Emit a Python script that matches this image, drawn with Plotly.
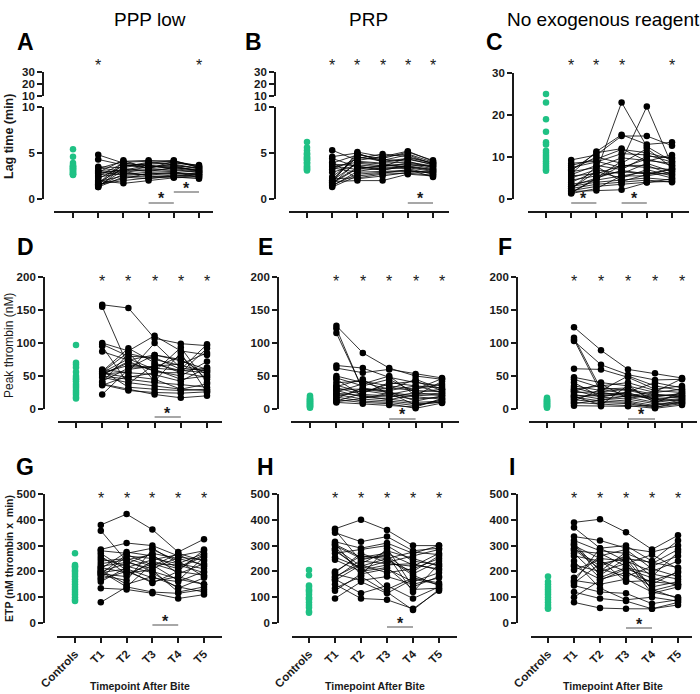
import plotly.graph_objects as go

timepoints = ["Controls", "T1", "T2", "T3", "T4", "T5"]

# ---------------- data ----------------
# each row = one patient, values at T1..T5
lag_ppp_ctrl = [5.4, 4.6, 3.9, 3.7, 3.6, 3.5, 3.4, 3.3, 3.2, 3.1, 3.0, 2.9, 2.8, 2.7, 2.7, 2.6, 3.5, 3.3]
lag_ppp = [
    [4.8, 3.9, 3.6, 3.4, 3.1], [4.3, 3.7, 3.4, 3.8, 3.3], [3.5, 3.4, 3.9, 4.1, 3.6], [3.3, 4.1, 4.2, 4.0, 3.5],
    [3.1, 2.9, 3.2, 3.1, 2.9], [3.0, 2.6, 2.7, 2.9, 2.7], [2.8, 3.2, 3.0, 3.4, 3.2], [2.6, 3.0, 3.5, 3.6, 3.4],
    [2.4, 2.8, 2.6, 2.8, 2.6], [2.2, 3.6, 3.8, 3.9, 3.7], [2.0, 1.7, 2.0, 2.3, 2.4], [1.9, 2.5, 2.4, 2.6, 2.5],
    [1.8, 3.3, 3.1, 3.3, 3.0], [1.7, 4.0, 4.1, 4.2, 3.4], [1.6, 2.2, 2.8, 2.7, 2.8], [1.5, 3.8, 3.3, 3.5, 3.1],
    [1.4, 2.7, 2.9, 3.0, 2.3], [1.4, 3.1, 3.7, 3.2, 2.9], [1.3, 3.5, 4.0, 3.7, 3.3], [1.3, 2.4, 2.2, 2.5, 2.7],
    [2.9, 4.2, 3.3, 4.1, 3.5], [3.4, 3.0, 2.5, 2.4, 2.2], [2.5, 3.9, 3.6, 3.6, 3.0], [1.6, 2.0, 2.3, 2.4, 2.5],
]
lag_prp_ctrl = [6.2, 5.6, 5.3, 5.0, 4.8, 4.6, 4.5, 4.3, 4.2, 4.0, 3.9, 3.8, 3.6, 3.5, 3.4, 3.3, 3.2, 3.1, 4.9, 4.4]
lag_prp = [
    [5.3, 4.2, 4.6, 4.9, 4.0], [4.6, 5.0, 4.0, 4.3, 3.8], [4.4, 3.5, 3.3, 3.6, 3.2], [3.9, 4.8, 4.4, 5.1, 4.2],
    [3.6, 3.2, 3.7, 3.4, 3.0], [3.4, 2.9, 3.0, 3.1, 2.8], [3.2, 4.4, 4.9, 4.6, 3.9], [2.9, 3.7, 3.5, 3.9, 3.5],
    [2.2, 2.3, 2.7, 2.8, 2.6], [2.1, 4.6, 4.1, 4.4, 3.7], [2.0, 3.9, 3.6, 3.8, 3.3], [1.9, 2.0, 2.0, 2.7, 2.5],
    [1.8, 5.1, 4.6, 5.2, 4.1], [1.7, 3.3, 3.2, 3.5, 3.1], [1.6, 4.1, 3.9, 4.0, 3.6], [1.5, 2.7, 2.9, 3.0, 2.9],
    [1.4, 3.0, 3.4, 3.3, 2.7], [1.3, 2.5, 2.8, 3.2, 2.4], [2.4, 4.5, 4.3, 4.1, 3.4], [3.8, 3.6, 3.1, 3.7, 3.6],
    [4.0, 2.2, 2.5, 2.9, 3.0], [2.0, 4.9, 4.2, 4.8, 3.8], [3.5, 4.0, 3.8, 3.5, 3.2], [1.8, 3.4, 3.5, 4.5, 3.9],
]
lag_none_ctrl = [25, 23, 19, 16, 13.5, 13, 11.5, 11, 10.5, 10, 9.5, 9, 8.5, 8, 7.5, 7, 6.7]
lag_none = [
    [2.5, 6.5, 23.0, 12.5, 9.0], [3.0, 5.0, 9.0, 22.0, 8.0], [6.0, 11.3, 15.3, 13.0, 13.5], [9.3, 10.5, 15.0, 15.0, 12.7],
    [8.0, 9.5, 11.8, 11.0, 9.5], [7.5, 8.8, 10.8, 10.5, 8.8], [7.0, 10.0, 8.5, 12.0, 7.5], [6.5, 7.5, 9.8, 9.2, 8.5],
    [5.8, 8.0, 7.0, 10.2, 9.8], [5.5, 6.0, 8.0, 7.5, 7.0], [5.0, 7.0, 6.0, 8.5, 6.5], [4.5, 5.5, 6.5, 6.0, 6.0],
    [4.0, 6.5, 5.0, 7.0, 5.5], [3.5, 4.5, 5.5, 6.5, 5.0], [3.0, 4.0, 4.5, 5.0, 4.5], [2.5, 3.5, 4.0, 4.5, 4.0],
    [2.0, 3.0, 3.5, 4.0, 4.2], [1.8, 2.0, 2.2, 3.9, 4.8], [1.5, 5.0, 6.8, 6.0, 7.0], [1.3, 2.5, 5.5, 5.5, 6.5],
    [8.5, 9.0, 7.5, 9.5, 8.0], [1.5, 4.8, 8.0, 8.0, 5.8], [2.2, 7.8, 4.2, 5.8, 7.2], [6.8, 11.0, 12.0, 9.0, 10.5],
]
peak_ppp_ctrl = [97, 70, 67, 63, 56, 50, 47, 45, 42, 38, 35, 32, 28, 25, 22, 18, 16]
peak_ppp = [
    [158, 153, 107, 99, 96], [155, 64, 62, 58, 55], [100, 88, 111, 88, 82], [98, 80, 78, 60, 98],
    [87, 74, 82, 73, 60], [57, 92, 70, 55, 92], [55, 66, 63, 80, 45], [53, 56, 100, 62, 58],
    [52, 70, 58, 50, 72], [50, 45, 40, 37, 33], [40, 84, 75, 66, 57], [38, 30, 22, 17, 20],
    [36, 50, 45, 30, 28], [22, 60, 65, 68, 85], [58, 33, 30, 28, 30], [55, 76, 60, 45, 50],
    [48, 40, 35, 30, 38], [60, 55, 52, 42, 63], [42, 62, 82, 75, 52], [56, 86, 42, 85, 25],
    [54, 48, 55, 55, 48], [37, 28, 25, 24, 26], [95, 38, 68, 58, 62], [52, 72, 57, 93, 40],
]
peak_prp_ctrl = [20, 18, 16, 15, 14, 13, 12, 11, 10, 9, 8, 7, 6, 5, 4, 3, 2]
peak_prp = [
    [126, 85, 62, 50, 45], [122, 28, 22, 18, 15], [115, 30, 25, 20, 22], [66, 62, 48, 40, 35],
    [62, 55, 60, 53, 47], [50, 40, 30, 45, 30], [47, 35, 45, 25, 20], [40, 42, 35, 30, 38],
    [36, 25, 38, 42, 28], [32, 22, 20, 15, 18], [30, 30, 28, 35, 25], [28, 18, 15, 10, 12],
    [26, 38, 50, 20, 42], [24, 20, 18, 25, 30], [22, 15, 12, 8, 10], [20, 28, 32, 28, 26],
    [18, 12, 10, 5, 14], [16, 32, 26, 12, 20], [14, 10, 8, 1, 9], [12, 24, 40, 35, 32],
    [10, 8, 6, 3, 16], [45, 20, 14, 22, 24], [34, 45, 22, 30, 46], [11, 16, 24, 6, 11],
]
peak_none_ctrl = [17, 15, 14, 13, 12, 11, 10, 9, 8, 7, 6, 5, 4, 3, 2]
peak_none = [
    [124, 89, 60, 54, 47], [108, 30, 22, 15, 12], [105, 25, 20, 16, 18], [103, 67, 52, 44, 45],
    [61, 60, 48, 30, 35], [48, 40, 35, 25, 30], [45, 32, 28, 20, 22], [35, 28, 50, 35, 28],
    [32, 22, 18, 10, 15], [30, 35, 40, 28, 25], [28, 18, 15, 8, 10], [25, 26, 30, 22, 20],
    [22, 15, 12, 5, 14], [20, 20, 25, 12, 16], [18, 12, 10, 3, 8], [16, 24, 22, 18, 24],
    [14, 10, 8, 2, 12], [12, 30, 32, 14, 20], [10, 8, 5, 1, 6], [8, 14, 20, 26, 46],
    [5, 4, 4, 6, 9], [40, 18, 26, 40, 32], [27, 38, 16, 22, 18], [19, 6, 36, 9, 26],
]
etp_ppp_ctrl = [270, 225, 220, 215, 205, 200, 190, 180, 170, 160, 150, 140, 130, 120, 110, 100, 90, 85]
etp_ppp = [
    [380, 422, 362, 275, 325], [358, 240, 200, 170, 150], [285, 310, 300, 260, 280], [280, 270, 290, 230, 270],
    [260, 190, 230, 200, 185], [240, 250, 220, 270, 240], [210, 275, 260, 215, 265], [205, 150, 180, 140, 120],
    [200, 230, 270, 250, 225], [195, 210, 175, 160, 200], [190, 180, 240, 210, 260], [175, 260, 250, 230, 210],
    [170, 200, 160, 180, 150], [135, 130, 115, 95, 110], [80, 140, 120, 115, 130], [220, 235, 210, 255, 245],
    [185, 165, 285, 240, 180], [250, 220, 195, 135, 175], [230, 245, 265, 190, 230], [200, 140, 230, 225, 195],
    [215, 195, 205, 120, 140], [270, 205, 155, 200, 285], [190, 265, 225, 165, 255], [160, 215, 245, 265, 220],
]
etp_prp_ctrl = [205, 185, 145, 140, 130, 125, 120, 110, 100, 95, 90, 80, 70, 60, 45, 40]
etp_prp = [
    [365, 400, 360, 300, 300], [360, 240, 230, 220, 270], [350, 315, 335, 280, 290], [315, 290, 310, 270, 300],
    [305, 255, 270, 225, 210], [290, 220, 250, 185, 145], [280, 210, 240, 200, 260], [270, 285, 300, 240, 225],
    [245, 200, 215, 130, 135], [200, 260, 250, 275, 265], [190, 165, 180, 150, 175], [180, 230, 280, 250, 220],
    [170, 115, 145, 95, 140], [150, 95, 90, 55, 125], [135, 180, 120, 50, 130], [125, 190, 210, 160, 195],
    [95, 160, 115, 170, 150], [300, 250, 260, 190, 240], [285, 205, 225, 230, 205], [310, 185, 290, 140, 180],
    [195, 270, 235, 260, 285], [165, 225, 195, 210, 250], [255, 215, 130, 175, 155], [175, 245, 265, 120, 230],
]
etp_none_ctrl = [180, 160, 150, 140, 130, 120, 110, 100, 90, 80, 70, 60, 55]
etp_none = [
    [390, 402, 352, 285, 340], [370, 290, 300, 240, 320], [335, 320, 290, 275, 300], [320, 280, 270, 230, 285],
    [300, 250, 240, 200, 240], [290, 220, 260, 180, 275], [280, 270, 220, 150, 200], [260, 240, 200, 140, 160],
    [225, 200, 230, 265, 210], [220, 170, 195, 160, 150], [175, 260, 285, 210, 180], [165, 150, 170, 120, 100],
    [155, 230, 250, 235, 215], [145, 120, 115, 75, 90], [120, 95, 85, 55, 80], [100, 165, 210, 175, 145],
    [80, 58, 55, 55, 70], [305, 185, 250, 130, 95], [285, 210, 180, 220, 260], [270, 175, 215, 190, 170],
    [160, 290, 240, 115, 140], [205, 245, 160, 165, 195], [310, 200, 275, 125, 150], [240, 135, 90, 100, 85],
]

column_titles = ["PPP low", "PRP", "No exogenous reagent"]
row_titles = ["Lag time (min)", "Peak thrombin (nM)", "ETP (nM thrombin x  min)"]
x_title = "Timepoint After Bite"

# significance marks: timepoints starred vs controls, and bracketed pairs
top_stars = {
    "A": ["T1", "T5"], "B": ["T1", "T2", "T3", "T4", "T5"], "C": ["T1", "T2", "T3", "T5"],
    "D": ["T1", "T2", "T3", "T4", "T5"], "E": ["T1", "T2", "T3", "T4", "T5"], "F": ["T1", "T2", "T3", "T4", "T5"],
    "G": ["T1", "T2", "T3", "T4", "T5"], "H": ["T1", "T2", "T3", "T4", "T5"], "I": ["T1", "T2", "T3", "T4", "T5"],
}
pair_marks = {
    "A": [("T3", "T4", 203), ("T4", "T5", 192)],
    "B": [("T4", "T5", 203)],
    "C": [("T1", "T2", 203), ("T3", "T4", 203)],
    "D": [("T3", "T4", 417)], "E": [("T3", "T4", 419)], "F": [("T3", "T4", 419)],
    "G": [("T3", "T4", 625)], "H": [("T3", "T4", 627)], "I": [("T3", "T4", 628)],
}

# ---------------- layout geometry (pixels) ----------------
W, H = 700, 694
FONT = "Arial, Liberation Sans, sans-serif"
INK = "#1a1a1a"
GREEN = "#1fc184"


def fx(px):
    return px / W


def fy(py):
    return 1 - py / H


# per row: pixel of y=0, pixel of top value, top value, tick step, x-axis line pixel, star pixel
rows = [
    dict(y0=199, ytop=107, vtop=10, dtick=5, xline=212, star=61),
    dict(y0=409, ytop=277, vtop=200, dtick=50, xline=422, star=277),
    dict(y0=623, ytop=494, vtop=500, dtick=100, xline=637, star=494),
]
# per panel: letter, data, controls, row, col, x-line left/right, first/last tick px, y-axis px
panels = [
    ("A", lag_ppp, lag_ppp_ctrl, 0, 0, 54, 213, 73, 199, 43),
    ("B", lag_prp, lag_prp_ctrl, 0, 1, 289, 449, 307, 433, 275),
    ("C", lag_none, lag_none_ctrl, 0, 2, 528, 689, 546, 672, 513),
    ("D", peak_ppp, peak_ppp_ctrl, 1, 0, 58, 222, 76, 207, 44),
    ("E", peak_prp, peak_prp_ctrl, 1, 1, 291, 459, 310, 442, 278),
    ("F", peak_none, peak_none_ctrl, 1, 2, 529, 697, 547, 682, 517),
    ("G", etp_ppp, etp_ppp_ctrl, 2, 0, 57, 222, 75, 204, 44),
    ("H", etp_prp, etp_prp_ctrl, 2, 1, 292, 457, 309, 439, 278),
    ("I", etp_none, etp_none_ctrl, 2, 2, 531, 692, 548, 678, 517),
]
letter_pos = {"A": (25, 42), "B": (253, 42), "C": (494, 42),
              "D": (25, 247), "E": (265, 247), "F": (505, 247),
              "G": (25, 467), "H": (265, 467), "I": (512, 467)}
col_title_x = [150, 368, 603]
x_title_x = [140, 375, 613]

fig = go.Figure()
layout = dict(template="none", width=W, height=H,
              margin=dict(l=0, r=0, t=0, b=0, pad=0, autoexpand=False),
              paper_bgcolor="white", plot_bgcolor="white", showlegend=False,
              font=dict(family=FONT, color=INK))
annotations = []
shapes = []

axis_common = dict(showgrid=False, zeroline=False, showline=True, linecolor=INK, linewidth=1.8,
                   ticks="outside", ticklen=5, tickwidth=1.6, tickcolor=INK, automargin=False,
                   tickfont=dict(family=FONT, size=11.5, color=INK, weight="bold"))

for k, (letter, data, ctrl, r, c, xl, xr, t0, t5, yax) in enumerate(panels, start=1):
    g = rows[r]
    sfx = "" if k == 1 else str(k)
    xref, yref = "x" + sfx, "y" + sfx
    step = (t5 - t0) / 5.0
    layout["xaxis" + sfx] = dict(
        axis_common, domain=[fx(xl), fx(xr)], range=[(xl - t0) / step, (xr - t0) / step],
        anchor="free", position=fy(g["xline"]),
        tickmode="array", tickvals=list(range(len(timepoints))), ticktext=timepoints,
        showticklabels=(r == 2), tickangle=-45)
    vtop = 30 if letter == "C" else g["vtop"]
    dtick = 10 if letter == "C" else g["dtick"]
    ytop_px = 73 if letter == "C" else g["ytop"]
    layout["yaxis" + sfx] = dict(
        axis_common, domain=[fy(g["y0"]), fy(ytop_px)], range=[0, vtop],
        tickmode="array", tickvals=list(range(0, vtop + 1, dtick)),
        anchor="free", position=fx(yax))

    # patient lines
    xs, ys = [], []
    for row_vals in data:
        for tp, v in zip(timepoints[1:], row_vals):
            xs.append(timepoints.index(tp))
            ys.append(v)
        xs.append(None)
        ys.append(None)
    fig.add_trace(go.Scatter(x=xs, y=ys, mode="lines+markers", xaxis=xref, yaxis=yref,
                             line=dict(color="black", width=0.8),
                             marker=dict(color="black", size=6.5), cliponaxis=False,
                             hoverinfo="skip"))
    # controls
    fig.add_trace(go.Scatter(x=[timepoints.index("Controls")] * len(ctrl), y=ctrl, mode="markers",
                             xaxis=xref, yaxis=yref, marker=dict(color=GREEN, size=6.5),
                             cliponaxis=False, hoverinfo="skip"))

    # broken upper axis segment for A, B
    if letter in ("A", "B"):
        kk = 9 + k
        layout["yaxis" + str(kk)] = dict(
            axis_common, domain=[fy(96), fy(72)], range=[10, 30],
            tickmode="array", tickvals=[10, 20, 30], anchor="free", position=fx(yax))
        fig.add_trace(go.Scatter(x=[None], y=[None], xaxis=xref, yaxis="y" + str(kk),
                                 mode="markers", hoverinfo="skip"))

    # top stars
    for tp in top_stars[letter]:
        annotations.append(dict(x=timepoints.index(tp), xref=xref, y=fy(g["star"]), yref="paper",
                                text="*", showarrow=False, yanchor="middle", yshift=-4,
                                font=dict(size=16, color=INK)))
    # bracket pairs
    for a, b, py in pair_marks[letter]:
        ia, ib = timepoints.index(a), timepoints.index(b)
        shapes.append(dict(type="line", xref=xref, yref="paper", x0=ia, x1=ib,
                           y0=fy(py), y1=fy(py), line=dict(color="#777777", width=1.3)))
        annotations.append(dict(x=(ia + ib) / 2, xref=xref, y=fy(py - 8), yref="paper",
                                text="<b>*</b>", showarrow=False, yanchor="middle", yshift=-4,
                                font=dict(size=16, color=INK)))
    # panel letter
    lx, ly = letter_pos[letter]
    annotations.append(dict(x=fx(lx), y=fy(ly), xref="paper", yref="paper", text="<b>%s</b>" % letter,
                            showarrow=False, xanchor="center", yanchor="middle",
                            font=dict(size=23, color="black")))

for c, t in enumerate(column_titles):
    annotations.append(dict(x=fx(col_title_x[c]), y=fy(20), xref="paper", yref="paper", text=t,
                            showarrow=False, xanchor="center", yanchor="middle",
                            font=dict(size=19, color="black")))
row_title_y = [137, 346, 559]
row_title_fmt = [("<b>%s</b>", 12.5), ("%s", 12), ("<b>%s</b>", 10.5)]
for r, t in enumerate(row_titles):
    fmt, sz = row_title_fmt[r]
    annotations.append(dict(x=fx(9), y=fy(row_title_y[r]), xref="paper", yref="paper", text=fmt % t,
                            textangle=-90, showarrow=False, xanchor="center", yanchor="middle",
                            font=dict(size=sz, color=INK)))
for c in range(3):
    annotations.append(dict(x=fx(x_title_x[c]), y=fy(686), xref="paper", yref="paper",
                            text="<b>%s</b>" % x_title, showarrow=False, xanchor="center",
                            yanchor="middle", font=dict(size=10.5, color=INK)))

layout["annotations"] = annotations
layout["shapes"] = shapes
fig.update_layout(**layout)
fig.write_html("out.html", config={"displayModeBar": False},
               post_script="document.body.style.margin='0px';document.body.style.padding='0px';")
